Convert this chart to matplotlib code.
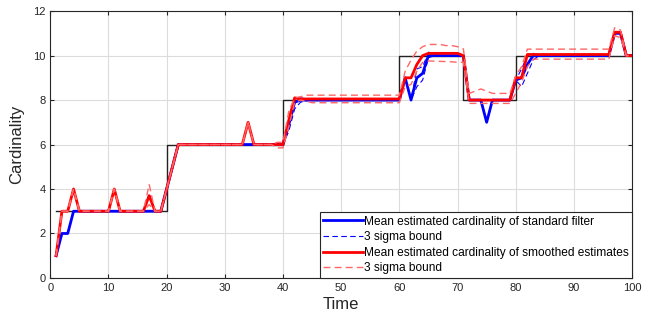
import numpy as np
import matplotlib
matplotlib.use('Agg')
import matplotlib.pyplot as plt

plt.rcParams['font.family'] = ['Liberation Sans', 'DejaVu Sans']

# Time axis and true cardinality
time_steps = np.arange(1, 101)
true_card = np.array([3] * 19 + [6] * 20 + [8] * 20 + [10] * 11 + [8] * 9 + [10] * 21, dtype=float)

# Mean estimated cardinality of standard filter
filt_mean = np.array([
    1, 2, 2, 3, 3, 3, 3, 3, 3, 3,
    3, 3, 3, 3, 3, 3, 3, 3, 3, 4,
    5, 6, 6, 6, 6, 6, 6, 6, 6, 6,
    6, 6, 6, 6, 6, 6, 6, 6, 6, 6,
    6.9, 7.9, 8, 8, 8, 8, 8, 8, 8, 8,
    8, 8, 8, 8, 8, 8, 8, 8, 8, 8,
    9, 8, 9, 9.2, 10, 10, 10, 10, 10, 10,
    10, 8, 8, 8, 7, 8, 8, 8, 8, 8.9,
    9, 9.6, 10, 10, 10, 10, 10, 10, 10, 10,
    10, 10, 10, 10, 10, 10, 11, 11, 10, 10])

filt_upper = filt_mean.copy()
filt_lower = filt_mean.copy()
filt_upper[[16, 40, 41, 42, 43, 62, 63, 64, 65, 80, 81, 82]] = [3.8, 7.2, 8.1, 8.1, 8.05, 9.4, 9.5, 10.15, 10.1, 9.4, 10.0, 10.1]
filt_lower[[16, 40, 41, 42, 43, 62, 63, 64, 80, 81, 82]] = [3.0, 6.6, 7.6, 7.9, 7.97, 8.6, 8.9, 9.9, 8.6, 9.2, 9.8]

# Mean estimated cardinality of smoothed estimates
smooth_mean = np.array([
    1, 3, 3, 4, 3, 3, 3, 3, 3, 3,
    4, 3, 3, 3, 3, 3, 3.7, 3, 3, 4,
    5, 6, 6, 6, 6, 6, 6, 6, 6, 6,
    6, 6, 6, 7, 6, 6, 6, 6, 6, 6,
    7.1, 8.1, 8.05, 8.05, 8.05, 8.05, 8.05, 8.05, 8.05, 8.05,
    8.05, 8.05, 8.05, 8.05, 8.05, 8.05, 8.05, 8.05, 8.05, 8.05,
    9, 9, 9.6, 10, 10.1, 10.1, 10.1, 10.1, 10.1, 10.1,
    10, 8, 8, 8, 8, 8, 8, 8, 8, 9,
    9, 10.05, 10.05, 10.05, 10.05, 10.05, 10.05, 10.05, 10.05, 10.05,
    10.05, 10.05, 10.05, 10.05, 10.05, 10.05, 11.05, 11.05, 10, 10])

smooth_upper = smooth_mean.copy()
smooth_lower = smooth_mean.copy()
smooth_upper[16] = 4.2
smooth_lower[16] = 3.3
smooth_upper[38:40] = [6.1, 6.1]
smooth_lower[38:40] = [5.85, 5.85]
smooth_upper[40:60] = [7.5, 8.1, 8.15] + [8.22] * 17
smooth_lower[40:60] = [6.8, 7.9, 8.0, 7.95] + [7.88] * 16
smooth_upper[60:71] = [9.3, 9.8, 10.2, 10.4, 10.5, 10.5, 10.5, 10.45, 10.45, 10.4, 10.3]
smooth_lower[60:71] = [8.6, 8.7, 9.3, 9.7, 9.76, 9.75, 9.74, 9.73, 9.72, 9.7, 9.7]
smooth_upper[71:79] = [8.3, 8.4, 8.5, 8.4, 8.3, 8.3, 8.3, 8.3]
smooth_lower[71:79] = [7.85] * 8
smooth_upper[79:96] = [9.1, 9.5] + [10.29] * 15
smooth_lower[79:96] = [8.3, 8.8, 9.5] + [9.84] * 14
smooth_upper[96:98] = [11.25, 11.15]
smooth_lower[96:98] = [10.9, 10.8]

fig = plt.figure(figsize=(6.53, 3.27), dpi=100)
ax = fig.add_axes((0.077, 0.150, 0.891, 0.816))

ax.step(time_steps, true_card, where='post', color='#222222', lw=1.0)
ax.plot(time_steps, filt_mean, color='blue', lw=2.0,
        label='Mean estimated cardinality of standard filter')
ax.plot(time_steps, filt_upper, '--', color='blue', lw=0.8, dashes=(5, 3),
        label='3 sigma bound')
ax.plot(time_steps, filt_lower, '--', color='blue', lw=0.8, dashes=(5, 3))
ax.plot(time_steps, smooth_mean, color='red', lw=2.0,
        label='Mean estimated cardinality of smoothed estimates')
ax.plot(time_steps, smooth_upper, '--', color='#ff6666', lw=1.0, dashes=(5, 3),
        label='3 sigma bound')
ax.plot(time_steps, smooth_lower, '--', color='#ff6666', lw=1.0, dashes=(5, 3))

ax.set_xlim(0, 100)
ax.set_ylim(0, 12)
ax.set_xticks(np.arange(0, 101, 10))
ax.set_yticks(np.arange(0, 13, 2))
ax.grid(True, color='#dcdcdc', lw=0.8)
ax.set_axisbelow(True)
ax.tick_params(direction='in', top=True, right=True, labelsize=8,
               colors='#262626', length=3)
for sp in ax.spines.values():
    sp.set_color('#262626')
    sp.set_linewidth(0.8)

ax.set_xlabel('Time', fontsize=12, color='#262626', labelpad=3)
ax.set_ylabel('Cardinality', fontsize=12, color='#262626', labelpad=6)

leg = ax.legend(loc='lower right', borderaxespad=0, fontsize=8.6, handlelength=3.3,
                handletextpad=0.1, labelspacing=0.3, fancybox=False,
                framealpha=1, borderpad=0.3)
leg.get_frame().set_edgecolor('#262626')
leg.get_frame().set_linewidth(0.8)

fig.savefig('out.png', dpi=100)
